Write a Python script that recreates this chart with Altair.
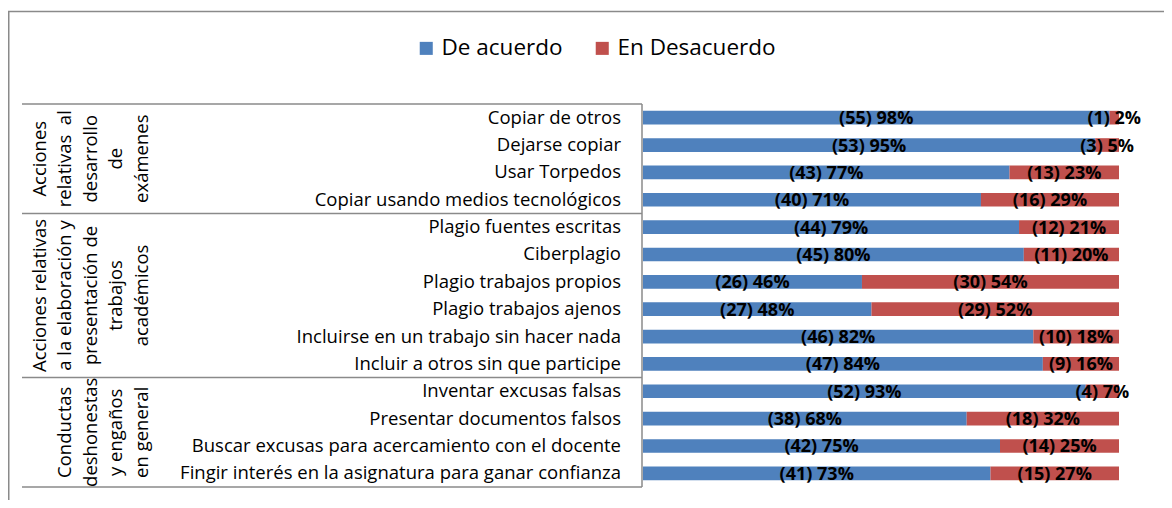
import altair as alt
import pandas as pd

# ---------------- data ----------------
categories = [
    "Copiar de otros",
    "Dejarse copiar",
    "Usar Torpedos",
    "Copiar usando medios tecnológicos",
    "Plagio fuentes escritas",
    "Ciberplagio",
    "Plagio trabajos propios",
    "Plagio trabajos ajenos",
    "Incluirse en un trabajo sin hacer nada",
    "Incluir a otros sin que participe",
    "Inventar excusas falsas",
    "Presentar documentos falsos",
    "Buscar excusas para acercamiento con el docente",
    "Fingir interés en la asignatura para ganar confianza",
]
agree_n = [55, 53, 43, 40, 44, 45, 26, 27, 46, 47, 52, 38, 42, 41]
agree_pct = [98, 95, 77, 71, 79, 80, 46, 48, 82, 84, 93, 68, 75, 73]
disagree_n = [1, 3, 13, 16, 12, 11, 30, 29, 10, 9, 4, 18, 14, 15]
disagree_pct = [2, 5, 23, 29, 21, 20, 54, 52, 18, 16, 7, 32, 25, 27]
series = ["De acuerdo", "En Desacuerdo"]
series_colors = ["#4F81BD", "#C0504D"]
group_lines = [
    ["Acciones", "relativas\u00a0\u00a0al", "desarrollo", "de", "exámenes"],
    ["Acciones relativas", "a la elaboración y", "presentación de", "trabajos", "académicos"],
    ["Conductas", "deshonestas", "y engaños", "en general"],
]
group_sizes = [4, 6, 4]

# ---------------- layout ----------------
W, H = 1156, 492
Y0, Y1 = 96, 479
X0, X1 = 635, 1111
FONT = "Open Sans"
GRID = "#8a8a8a"
n = len(categories)
step = (Y1 - Y0) / n

rows = []
for i, c in enumerate(categories):
    rows.append(dict(cat=c, serie=series[0], start=0, end=agree_pct[i],
                     label=f"({agree_n[i]}) {agree_pct[i]}%"))
    rows.append(dict(cat=c, serie=series[1], start=agree_pct[i],
                     end=agree_pct[i] + disagree_pct[i],
                     label=f"({disagree_n[i]}) {disagree_pct[i]}%"))
df = pd.DataFrame(rows)
df["mid"] = (df["start"] + df["end"]) / 2
cat_df = pd.DataFrame({"cat": categories})
dummy = pd.DataFrame({"d": [0]})

yscale = alt.Scale(domain=categories, range=[Y0, Y1], paddingInner=0.5, paddingOuter=0.25)
xscale = alt.Scale(domain=[0, 100], range=[X0, X1])

layers = []

# outer frame (left + top)
layers.append(alt.Chart(dummy).mark_rule(color=GRID, strokeWidth=1.5).encode(
    x=alt.value(0.75), y=alt.value(3), y2=alt.value(H)))
layers.append(alt.Chart(dummy).mark_rule(color=GRID, strokeWidth=1.5).encode(
    x=alt.value(0), x2=alt.value(W), y=alt.value(3.5)))

# table lines
bounds = [0]
for s in group_sizes:
    bounds.append(bounds[-1] + s)
for b in bounds:
    yy = Y0 + b * step
    layers.append(alt.Chart(dummy).mark_rule(color=GRID, strokeWidth=1.5).encode(
        x=alt.value(14), x2=alt.value(X0 - 1), y=alt.value(yy)))
layers.append(alt.Chart(dummy).mark_rule(color=GRID, strokeWidth=1.5).encode(
    x=alt.value(X0 - 1), y=alt.value(Y0), y2=alt.value(Y1)))

# bars
bars = alt.Chart(df).mark_bar().encode(
    y=alt.Y("cat:N", scale=yscale, axis=None, sort=categories),
    x=alt.X("start:Q", scale=xscale, axis=None),
    x2="end:Q",
    color=alt.Color(
        "serie:N",
        scale=alt.Scale(domain=series, range=series_colors),
        legend=alt.Legend(
            title=None, orient="none", legendX=407, legendY=29,
            direction="horizontal", symbolType="square", symbolSize=170,
            symbolStrokeWidth=0, labelFont=FONT, labelFontSize=22.5,
            labelColor="black", labelLimit=400, labelOffset=4,
            columnPadding=28, padding=0,
        ),
    ),
)
layers.append(bars)

# value labels
vals = alt.Chart(df).mark_text(
    font=FONT, fontWeight="bold", fontSize=18, color="black", baseline="middle", dy=1.5
).encode(
    y=alt.Y("cat:N", scale=yscale, axis=None, sort=categories),
    x=alt.X("mid:Q", scale=xscale, axis=None),
    text="label:N",
)
layers.append(vals)

# category labels
cats = alt.Chart(cat_df).mark_text(
    font=FONT, fontSize=18.5, color="black", align="right", baseline="middle"
).encode(
    y=alt.Y("cat:N", scale=yscale, axis=None, sort=categories),
    x=alt.value(613),
    text="cat:N",
)
layers.append(cats)

# group labels (rotated)
cols = [31.5, 57, 82.5, 108, 133.7]
for g, lines in enumerate(group_lines):
    yc = Y0 + step * (bounds[g] + bounds[g + 1]) / 2
    offs = cols[len(cols) - len(lines):]
    for t, xc in zip(lines, offs):
        layers.append(alt.Chart(dummy).mark_text(
            font=FONT, fontSize=18.5, color="black", angle=270,
            align="center", baseline="middle", text=t,
        ).encode(x=alt.value(xc), y=alt.value(yc)))

chart = alt.layer(*layers).properties(
    width=W, height=H, padding=0, autosize=alt.AutoSizeParams(type="none")
).configure_view(stroke=None)

chart.save("out.html", embed_options={"renderer": "svg", "actions": False})
